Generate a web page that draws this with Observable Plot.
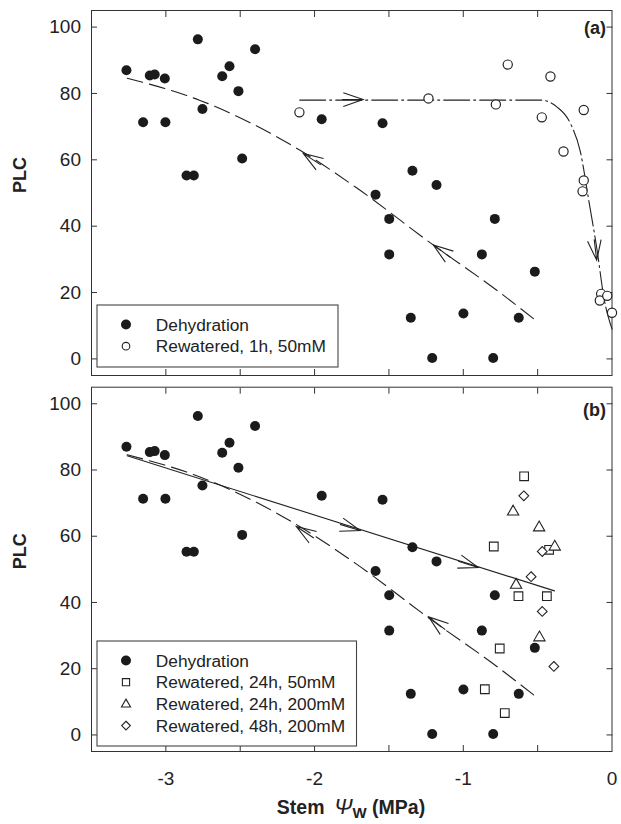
<!DOCTYPE html>
<html>
<head>
<meta charset="utf-8">
<script src="https://cdn.jsdelivr.net/npm/d3@7"></script>
<script src="https://cdn.jsdelivr.net/npm/@observablehq/plot@0.6"></script>
<style>
  body { margin: 0; background: #fff; }
  #wrap { position: relative; width: 621px; height: 824px; font-family: "Liberation Sans", Arial, Helvetica, sans-serif; color: #222; }
  #wrap > div svg { display: block; }
  #overlay { position: absolute; left: 0; top: 0; pointer-events: none; }
</style>
</head>
<body>
<div id="wrap">
  <div id="pa"></div>
  <div id="pb"></div>
  <svg id="overlay" width="621" height="824"></svg>
</div>
<script>
// ---------------- data ----------------
const dehydration = [
  [-3.265, 87.0], [-3.153, 71.3], [-3.108, 85.4], [-3.075, 85.7], [-3.007, 84.5],
  [-3.003, 71.3], [-2.785, 96.3], [-2.754, 75.3], [-2.861, 55.3], [-2.812, 55.3],
  [-2.621, 85.2], [-2.572, 88.2], [-2.512, 80.7], [-2.400, 93.3], [-2.487, 60.4],
  [-1.952, 72.2], [-1.543, 71.0], [-1.342, 56.7], [-1.180, 52.4], [-1.590, 49.5],
  [-1.498, 42.2], [-0.788, 42.2], [-1.498, 31.5], [-0.875, 31.5], [-0.519, 26.3],
  [-1.353, 12.4], [-0.999, 13.7], [-0.627, 12.4], [-1.209, 0.3], [-0.799, 0.3]
];
const rewatered1h50 = [
  [-2.102, 74.3], [-1.234, 78.5], [-0.701, 88.7], [-0.781, 76.7], [-0.414, 85.1],
  [-0.472, 72.8], [-0.190, 75.0], [-0.326, 62.5], [-0.190, 53.8], [-0.198, 50.5],
  [-0.073, 19.6], [-0.082, 17.6], [-0.032, 19.0], [0.0, 13.9]
];
const rewatered24h50 = [
  [-0.591, 78.1], [-0.795, 56.9], [-0.423, 55.9], [-0.629, 41.9], [-0.438, 41.9],
  [-0.755, 26.1], [-0.855, 13.8], [-0.721, 6.6]
];
const rewatered24h200 = [
  [-0.665, 67.4], [-0.490, 62.6], [-0.385, 56.8], [-0.645, 45.3], [-0.488, 29.4]
];
const rewatered48h200 = [
  [-0.593, 72.2], [-0.469, 55.4], [-0.544, 47.8], [-0.469, 37.3], [-0.391, 20.7]
];
// fitted trend lines
const dehydrationFit = [
  [-3.26, 84.6], [-2.77, 77.9], [-2.095, 62.8], [-1.725, 51.8],
  [-1.198, 34.2], [-0.772, 20.6], [-0.519, 11.8]
];
const rewater1hFit = [
  [-2.10, 78.0], [-0.48, 78.0], [-0.369, 75.9], [-0.279, 70.9], [-0.212, 62.3],
  [-0.156, 47.7], [-0.100, 32.7], [-0.055, 18.6], [0.0, 9.0]
];
const rewaterLongFit = [[-3.26, 84.3], [-0.387, 43.5]];
// arrow heads: [tailX, tailY, tipX, tipY]
const arrowsA = [
  [-1.93, 57.6, -2.073, 61.8], [-1.03, 28.7, -1.198, 34.2],
  [-1.82, 78.0, -1.67, 78.0], [-0.122, 38.0, -0.0995, 29.6]
];
const arrowsB = [
  [-1.99, 59.0, -2.12, 62.8], [-1.07, 30.0, -1.23, 35.5],
  [-1.83, 63.5, -1.69, 61.6], [-1.06, 52.7, -0.896, 50.4]
];
// ticks
const xTicks = [-3, -2.5, -2, -1.5, -1, -0.5];
const xLabels = [-3, -2, -1, 0];
const yTicks = [0, 20, 40, 60, 80, 100];
const legendA = ["Dehydration", "Rewatered, 1h, 50mM"];
const legendB = ["Dehydration", "Rewatered, 24h, 50mM", "Rewatered, 24h, 200mM", "Rewatered, 48h, 200mM"];

// ---------------- helpers ----------------
const FONT = '"Liberation Sans", Arial, Helvetica, sans-serif';
const INK = "#222";
const NS = "http://www.w3.org/2000/svg";

function arrowHeads(list) {
  return (index, scales) => {
    const g = document.createElementNS(NS, "g");
    g.setAttribute("fill", "none");
    g.setAttribute("stroke", INK);
    g.setAttribute("stroke-width", "1.1");
    for (const [tx, ty, hx, hy] of list) {
      const x1 = scales.x(tx), y1 = scales.y(ty), x2 = scales.x(hx), y2 = scales.y(hy);
      const a = Math.atan2(y1 - y2, x1 - x2);
      const L = 21, w = 19 * Math.PI / 180;
      const p1 = [x2 + L * Math.cos(a + w), y2 + L * Math.sin(a + w)];
      const p2 = [x2 + L * Math.cos(a - w), y2 + L * Math.sin(a - w)];
      const q = [x2 + L * Math.cos(a), y2 + L * Math.sin(a)];
      const path = document.createElementNS(NS, "path");
      path.setAttribute("d", `M${p1[0]},${p1[1]}L${x2},${y2}L${p2[0]},${p2[1]}M${x2},${y2}L${q[0]},${q[1]}`);
      g.appendChild(path);
    }
    return g;
  };
}

function frameTicks() {
  return [
    Plot.axisX({ticks: xTicks, anchor: "bottom", tickSize: 6, dy: -6, tickFormat: () => "", label: null, stroke: "#333"}),
    Plot.axisX({ticks: xTicks, anchor: "top", tickSize: 6, dy: 6, tickFormat: () => "", label: null, stroke: "#333"}),
    Plot.axisY({ticks: yTicks, anchor: "left", tickSize: 6, dx: 6, tickFormat: () => "", label: null, stroke: "#333"}),
    Plot.axisY({ticks: yTicks, anchor: "right", tickSize: 6, dx: -6, tickFormat: () => "", label: null, stroke: "#333"}),
    Plot.axisY({ticks: yTicks, anchor: "left", tickSize: 0, tickPadding: 10.5, tickFormat: d => String(d), label: null, fontSize: 19, fill: INK})
  ];
}

const common = {
  width: 621,
  marginLeft: 91,
  marginRight: 9.5,
  x: {domain: [-3.5, 0], axis: null},
  y: {domain: [-5, 105], axis: null},
  style: {fontFamily: FONT, fontSize: "19px", color: INK, background: "transparent", overflow: "visible"}
};

// ---------------- panel (a) ----------------
const plotA = Plot.plot({
  ...common,
  height: 380,
  marginTop: 10,
  marginBottom: 5,
  marks: [
    Plot.frame({stroke: "#333", strokeWidth: 1}),
    ...frameTicks(),
    Plot.line(dehydrationFit, {x: d => d[0], y: d => d[1], curve: "monotone-x", stroke: INK, strokeWidth: 1.1, strokeDasharray: "16,7"}),
    Plot.line(rewater1hFit, {x: d => d[0], y: d => d[1], curve: "monotone-x", stroke: INK, strokeWidth: 1.1, strokeDasharray: "26,4,2,4"}),
    arrowHeads(arrowsA),
    Plot.dot(dehydration, {x: d => d[0], y: d => d[1], r: 5, fill: "#1b1b1b", stroke: "none"}),
    Plot.dot(rewatered1h50, {x: d => d[0], y: d => d[1], r: 4.6, fill: "white", stroke: INK, strokeWidth: 1.2}),
    Plot.text(["(a)"], {frameAnchor: "top-right", text: d => d, dx: -6, dy: 11, fontWeight: "bold", fontSize: 18, fill: INK}),
    Plot.text(["PLC"], {frameAnchor: "left", text: d => d, rotate: -90, dx: -71, fontWeight: "bold", fontSize: 18, fill: INK})
  ]
});
document.getElementById("pa").appendChild(plotA);

// ---------------- panel (b) ----------------
const plotB = Plot.plot({
  ...common,
  height: 444,
  marginTop: 6.7,
  marginBottom: 73,
  marks: [
    Plot.frame({stroke: "#333", strokeWidth: 1}),
    ...frameTicks(),
    Plot.axisX({ticks: xLabels, anchor: "bottom", tickSize: 0, tickPadding: 20, tickFormat: d => String(d), label: null, fontSize: 19, fill: INK}),
    Plot.line(dehydrationFit, {x: d => d[0], y: d => d[1], curve: "monotone-x", stroke: INK, strokeWidth: 1.1, strokeDasharray: "16,7"}),
    Plot.line(rewaterLongFit, {x: d => d[0], y: d => d[1], stroke: INK, strokeWidth: 1.1}),
    arrowHeads(arrowsB),
    Plot.dot(dehydration, {x: d => d[0], y: d => d[1], r: 5, fill: "#1b1b1b", stroke: "none"}),
    Plot.dot(rewatered24h50, {x: d => d[0], y: d => d[1], symbol: "square", r: 4.9, fill: "white", stroke: INK, strokeWidth: 1.1}),
    Plot.dot(rewatered24h200, {x: d => d[0], y: d => d[1], symbol: "triangle", r: 4.2, fill: "white", stroke: INK, strokeWidth: 1.1}),
    Plot.dot(rewatered48h200, {x: d => d[0], y: d => d[1], symbol: "diamond2", r: 4.4, fill: "white", stroke: INK, strokeWidth: 1.1}),
    Plot.text(["(b)"], {frameAnchor: "top-right", text: d => d, dx: -6, dy: 16, fontWeight: "bold", fontSize: 18, fill: INK}),
    Plot.text(["PLC"], {frameAnchor: "left", text: d => d, rotate: -90, dx: -71, fontWeight: "bold", fontSize: 18, fill: INK})
  ]
});
document.getElementById("pb").appendChild(plotB);

// ---------------- legends & x title (overlay) ----------------
const ov = d3.select("#overlay");
function legend(box, rows, symbols) {
  const g = ov.append("g");
  g.append("rect").attr("x", box.x + 0.5).attr("y", box.y + 0.5).attr("width", box.w).attr("height", box.h)
    .attr("fill", "white").attr("stroke", "#444").attr("stroke-width", 1.1);
  rows.forEach((label, i) => {
    const cy = box.y + 20 + i * 21.7;
    const s = symbols[i];
    const cx = box.x + 29.5;
    if (s === "filled") g.append("circle").attr("cx", cx).attr("cy", cy).attr("r", 5).attr("fill", "#1b1b1b");
    else if (s === "open") g.append("circle").attr("cx", cx).attr("cy", cy).attr("r", 3.8).attr("fill", "white").attr("stroke", INK).attr("stroke-width", 1.1);
    else {
      const sym = s === "square" ? d3.symbolSquare : s === "triangle" ? d3.symbolTriangle : d3.symbolDiamond2;
      const size = s === "square" ? 52 : s === "triangle" ? 36 : 48;
      g.append("path").attr("d", d3.symbol(sym, size)()).attr("transform", `translate(${cx},${cy + (s === "triangle" ? 0.5 : 0)})`)
        .attr("fill", "white").attr("stroke", INK).attr("stroke-width", 1.1);
    }
    g.append("text").attr("x", box.x + 59.3).attr("y", cy + 6).attr("font-family", FONT).attr("font-size", 17.3)
      .attr("fill", INK).text(label);
  });
}
legend({x: 96.5, y: 304.5, w: 241, h: 62}, legendA, ["filled", "open"]);
legend({x: 96.5, y: 640.5, w: 259.5, h: 105}, legendB, ["filled", "square", "triangle", "diamond"]);

const t = ov.append("text").attr("x", 351).attr("y", 814).attr("text-anchor", "middle")
  .attr("font-family", FONT).attr("font-size", 19.5).attr("font-weight", "bold").attr("fill", INK);
t.append("tspan").text("Stem\u2002");
t.append("tspan").attr("font-style", "italic").attr("font-size", 22).attr("font-weight", "normal").text("\u03A8");
t.append("tspan").attr("font-size", 15).attr("dy", 4).text("W");
t.append("tspan").attr("dy", -4).text(" (MPa)");
</script>
</body>
</html>
